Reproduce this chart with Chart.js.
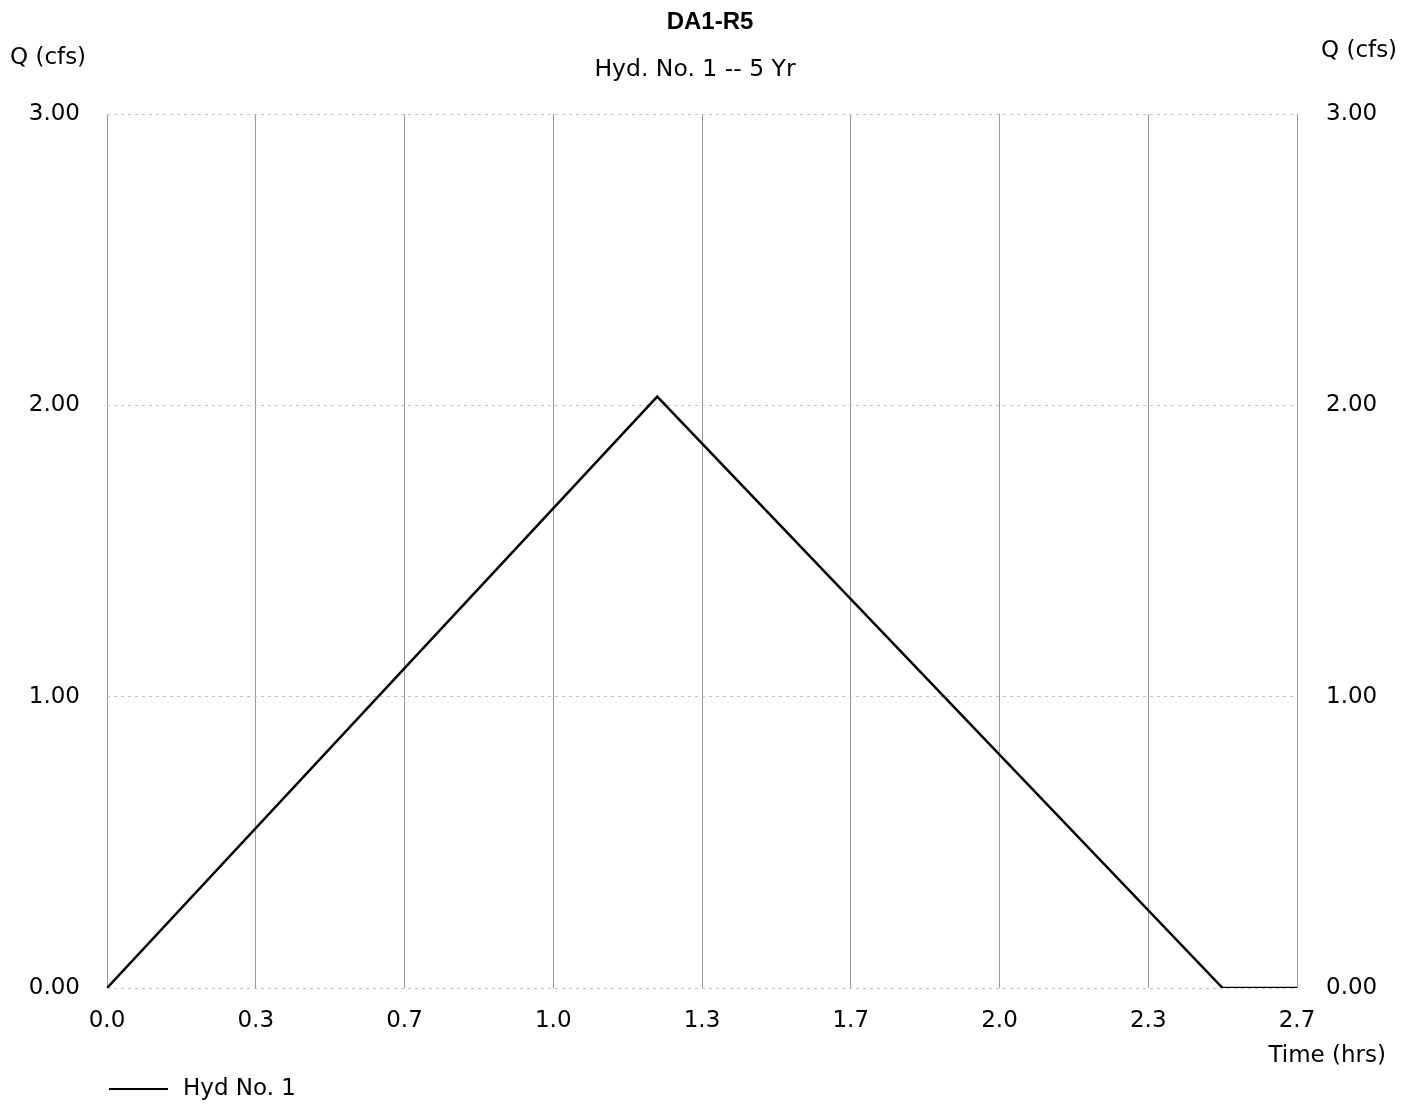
<!DOCTYPE html>
<html>
<head>
<meta charset="utf-8">
<script src="https://cdn.jsdelivr.net/npm/chart.js@4/dist/chart.umd.min.js"></script>
<style>
  body { margin: 0; background: #fff; }
  #wrap { width: 1419px; height: 1106px; }
</style>
</head>
<body>
<div id="wrap"><canvas id="hydro" width="1419" height="1106"></canvas></div>
<script>
// Hydrograph vertices (time in hrs, flow in cfs)
const timeHrs = [0, 1.233, 2.5, 2.667];
const flowCfs = [0, 2.03, 0, 0];

// Axis tick labels
const xTickLabels = ['0.0', '0.3', '0.7', '1.0', '1.3', '1.7', '2.0', '2.3', '2.7'];
const yTickLabels = ['0.00', '1.00', '2.00', '3.00'];

const FONT = '"DejaVu Sans", sans-serif';
const BOLD_FONT = '"Liberation Sans", Arial, sans-serif';

// draw titles, axis captions and legend
const textPlugin = {
  id: 'texts',
  afterDraw(chart) {
    const ctx = chart.ctx;
    ctx.save();
    ctx.fillStyle = '#000';
    ctx.textBaseline = 'middle';

    ctx.textAlign = 'center';
    ctx.font = 'bold 24px ' + BOLD_FONT;
    ctx.fillText('DA1-R5', 710, 22);
    ctx.font = '23.5px ' + FONT;
    ctx.fillText('Hyd. No. 1 -- 5 Yr', 695, 70);

    ctx.font = '23px ' + FONT;
    ctx.textAlign = 'left';
    ctx.fillText('Q (cfs)', 10, 58);
    ctx.fillText('Q (cfs)', 1321, 51);

    ctx.textAlign = 'right';
    ctx.fillText('Time (hrs)', 1386, 1056);

    // legend
    ctx.strokeStyle = '#000';
    ctx.lineWidth = 2;
    ctx.beginPath();
    ctx.moveTo(109, 1089);
    ctx.lineTo(168, 1089);
    ctx.stroke();
    ctx.textAlign = 'left';
    ctx.fillText('Hyd No. 1', 183, 1089);
    ctx.restore();
  }
};

const tickFont = { family: FONT, size: 23 };

new Chart(document.getElementById('hydro'), {
  type: 'line',
  data: {
    datasets: [{
      label: 'Hyd No. 1',
      data: timeHrs.map((t, i) => ({ x: t, y: flowCfs[i] })),
      borderColor: '#000',
      borderWidth: 2.5,
      pointRadius: 0,
      tension: 0,
      fill: false
    }]
  },
  options: {
    responsive: false,
    animation: false,
    layout: { padding: { top: 114, right: 0, bottom: 0, left: 0 } },
    plugins: {
      legend: { display: false },
      title: { display: false },
      tooltip: { enabled: false }
    },
    scales: {
      x: {
        type: 'linear',
        min: 0,
        max: 8 / 3,
        afterBuildTicks: s => { s.ticks = xTickLabels.map((_, k) => ({ value: k / 3 })); },
        afterFit: s => { s.height = 118; },
        ticks: {
          color: '#000',
          font: tickFont,
          padding: 19,
          maxRotation: 0,
          callback: (v, i) => xTickLabels[i]
        },
        grid: { color: '#999', lineWidth: 1, drawTicks: false },
        border: { display: false }
      },
      y: {
        position: 'left',
        min: 0,
        max: 3,
        afterBuildTicks: s => { s.ticks = yTickLabels.map((_, k) => ({ value: k })); },
        afterFit: s => { s.width = 107; },
        ticks: {
          color: '#000',
          font: tickFont,
          padding: 27,
          callback: (v, i) => yTickLabels[i]
        },
        grid: { color: '#c2c2c2', lineWidth: 1, drawTicks: false },
        border: { display: false, dash: [3, 4] }
      },
      y2: {
        position: 'right',
        min: 0,
        max: 3,
        afterBuildTicks: s => { s.ticks = yTickLabels.map((_, k) => ({ value: k })); },
        afterFit: s => { s.width = 122; },
        ticks: {
          color: '#000',
          font: tickFont,
          padding: 29,
          callback: (v, i) => yTickLabels[i]
        },
        grid: { display: false, drawTicks: false },
        border: { display: false }
      }
    }
  },
  plugins: [textPlugin]
});
</script>
</body>
</html>
